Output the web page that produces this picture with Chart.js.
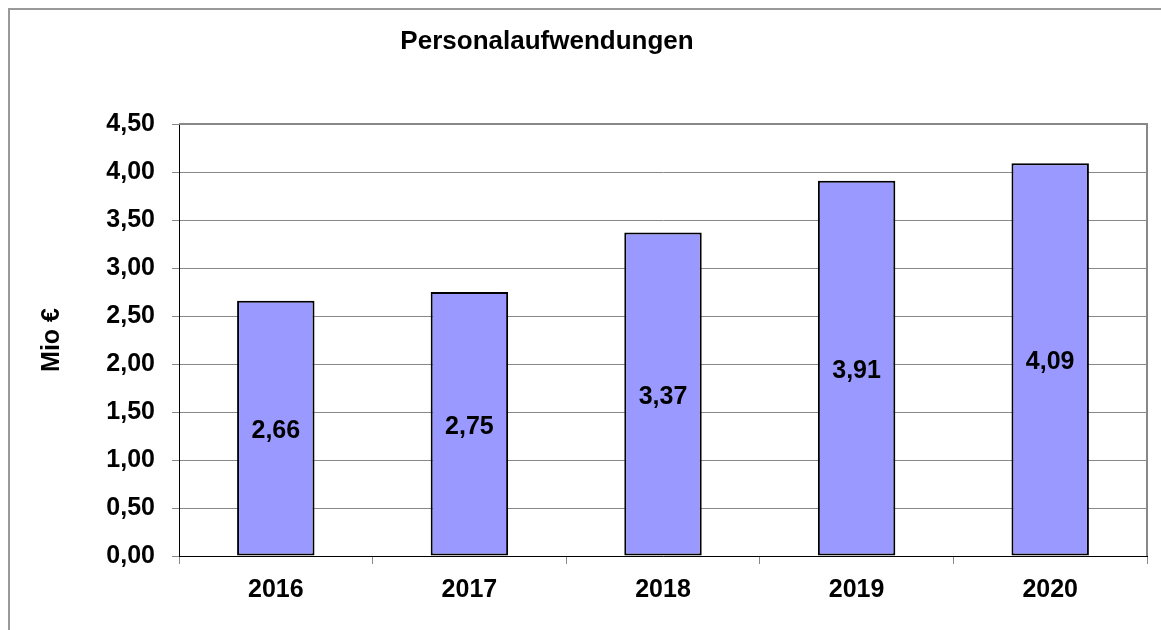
<!DOCTYPE html>
<html>
<head>
<meta charset="utf-8">
<title>Personalaufwendungen</title>
<script src="https://cdn.jsdelivr.net/npm/chart.js@4/dist/chart.umd.min.js"></script>
<style>
  html, body { margin: 0; padding: 0; background: #fff; }
  canvas { display: block; }
</style>
</head>
<body>
<canvas id="myChart" width="1161" height="630"></canvas>
<script>
// chart data
const years = ['2016', '2017', '2018', '2019', '2020'];
const amounts = [2.66, 2.75, 3.37, 3.91, 4.09];
const chartTitle = 'Personalaufwendungen';
const yTitle = 'Mio €';

const FONT = "'Liberation Sans', Arial, sans-serif";
const fmt = v => Number(v).toFixed(2).replace('.', ',');

// outer frame, plot border, title and value labels
const decorations = {
  id: 'decorations',
  beforeDraw(chart) {
    const ctx = chart.ctx;
    ctx.save();
    ctx.strokeStyle = '#999';
    ctx.lineWidth = 2;
    ctx.beginPath();
    ctx.moveTo(9, chart.height);
    ctx.lineTo(9, 9);
    ctx.lineTo(chart.width, 9);
    ctx.stroke();
    ctx.restore();
  },
  afterDatasetsDraw(chart) {
    const ctx = chart.ctx;
    const area = chart.chartArea;
    ctx.save();
    // top and right plot border
    ctx.strokeStyle = '#888';
    ctx.lineWidth = 2;
    ctx.beginPath();
    ctx.moveTo(area.left, area.top);
    ctx.lineTo(area.right, area.top);
    ctx.lineTo(area.right, area.bottom);
    ctx.stroke();

    // values in the middle of each bar
    ctx.fillStyle = '#000';
    ctx.font = 'bold 25px ' + FONT;
    ctx.textAlign = 'center';
    ctx.textBaseline = 'middle';
    chart.getDatasetMeta(0).data.forEach((bar, i) => {
      const p = bar.getCenterPoint();
      ctx.fillText(fmt(amounts[i]), p.x, p.y + 3);
    });

    // title
    ctx.font = 'bold 26px ' + FONT;
    ctx.fillText(chartTitle, 547, 42);
    ctx.restore();
  }
};

const ctx = document.getElementById('myChart').getContext('2d');
const chart = new Chart(ctx, {
  type: 'bar',
  data: {
    labels: years,
    datasets: [{
      label: 'Mio €',
      data: amounts,
      backgroundColor: '#9999FF',
      borderColor: '#000',
      borderWidth: 2,
      borderSkipped: false,
      categoryPercentage: 1,
      barPercentage: 0.4
    }]
  },
  options: {
    responsive: false,
    animation: false,
    layout: { padding: { top: 124, right: 14, left: 0, bottom: 0 } },
    plugins: {
      legend: { display: false },
      tooltip: { enabled: false },
      title: { display: false }
    },
    scales: {
      x: {
        offset: true,
        grid: {
          display: true,
          offset: true,
          drawOnChartArea: false,
          drawTicks: true,
          tickLength: 8,
          color: '#888'
        },
        border: { display: true, color: '#000', width: 1 },
        ticks: {
          color: '#000',
          padding: 11,
          font: { family: FONT, size: 25, weight: 'bold' }
        },
        afterFit: s => { s.height = 74; }
      },
      y: {
        min: 0,
        max: 4.5,
        grid: {
          color: '#888',
          lineWidth: 1,
          tickLength: 7,
          drawTicks: true
        },
        border: { display: true, color: '#000', width: 1 },
        ticks: {
          stepSize: 0.5,
          color: '#000',
          padding: 17,
          font: { family: FONT, size: 25, weight: 'bold' },
          callback: v => fmt(v)
        },
        title: {
          display: true,
          text: yTitle,
          color: '#000',
          padding: { top: 37, bottom: 0 },
          font: { family: FONT, size: 25, weight: 'bold' }
        },
        afterFit: s => { s.width = 179; }
      }
    }
  },
  plugins: [decorations]
});
</script>
</body>
</html>
